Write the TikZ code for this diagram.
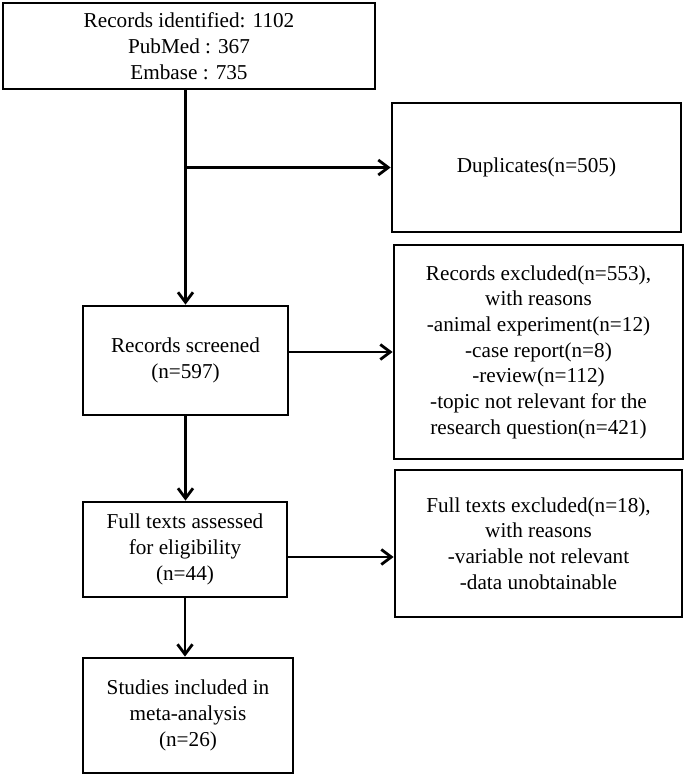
\documentclass[tikz,border=0pt]{standalone}
\usepackage{fontspec}
\setmainfont{Liberation Serif}
\usetikzlibrary{arrows.meta}
\begin{document}
\begin{tikzpicture}[x=1pt,y=-1pt,
  box/.style={draw, line width=2.8pt, rectangle, align=center, inner sep=0pt,
    font=\fontsize{21.2}{25.7}\selectfont},
  arr/.style={line width=2.8pt, -{Straight Barb[length=10pt,width=15pt]}}]
\useasboundingbox (0,0) rectangle (685,776);
\node[box, minimum width=372pt, minimum height=86pt] (top) at (189,46)
  {Records identified: 1102\\PubMed : 367\\Embase : 735};
\node[box, minimum width=289pt, minimum height=129pt] (dup) at (536.5,167.5)
  {Duplicates(n=505)};
\node[box, minimum width=205pt, minimum height=109pt] (scr) at (185.5,360.5)
  {Records screened\\(n=597)};
\node[box, minimum width=289pt, minimum height=214pt] (exc1) at (538.5,352)
  {Records excluded(n=553),\\with reasons\\-animal experiment(n=12)\\-case report(n=8)\\-review(n=112)\\-topic not relevant for the\\research question(n=421)};
\node[box, minimum width=204pt, minimum height=95pt] (full) at (185,549.5)
  {Full texts assessed\\for eligibility\\(n=44)};
\node[box, minimum width=287pt, minimum height=147pt] (exc2) at (538.5,543.5)
  {Full texts excluded(n=18),\\with reasons\\-variable not relevant\\-data unobtainable};
\node[box, minimum width=210pt, minimum height=115pt] (stu) at (188,715.5)
  {Studies included in\\meta-analysis\\(n=26)};
\coordinate (b1) at (scr.north |- top.south);
\coordinate (b2) at (scr.north |- dup.west);
\draw[arr] (b1) -- (scr.north);
\draw[arr] (b2) -- (dup.west);
\draw[arr] (scr.east |- exc1.west) -- (exc1.west);
\draw[arr] (scr.south) -- (scr.south |- full.north);
\coordinate (f1) at ([yshift=-7.5pt]full.east);
\draw[arr] (f1) -- (f1 -| exc2.west);
\draw[arr] (full.south) -- (full.south |- stu.north);
\end{tikzpicture}
\end{document}
